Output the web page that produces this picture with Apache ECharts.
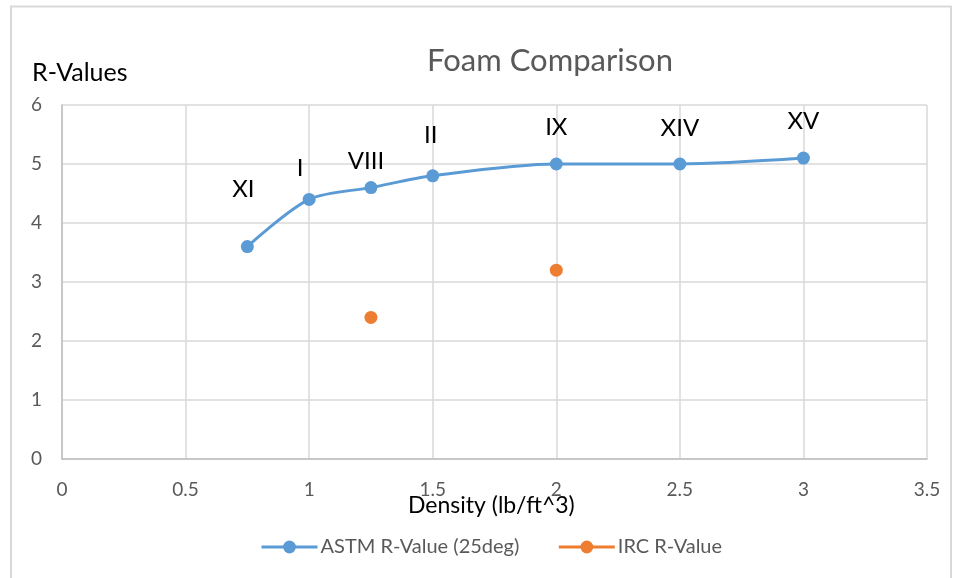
<!DOCTYPE html>
<html><head><meta charset="utf-8">
<script src="https://cdn.jsdelivr.net/npm/echarts@6/dist/echarts.min.js"></script>
<style>html,body{margin:0;padding:0;background:#fff}#c{width:958px;height:578px}</style>
</head><body><div id="c"></div>
<script>
const astmDensity = [0.75, 1, 1.25, 1.5, 2, 2.5, 3];
const astmR = [3.6, 4.4, 4.6, 4.8, 5.0, 5.0, 5.1];
const astmNames = ['XI', 'I', 'VIII', 'II', 'IX', 'XIV', 'XV'];
const ircDensity = [1.25, 2];
const ircR = [2.4, 3.2];
// label placement relative to each marker centre (layout only)
const labelOffsets = [[-4, -57], [-9, -31], [-5, -26], [-2, -41], [0, -37], [0, -36], [0, -37]];

const FONT = 'Lato, "Open Sans", sans-serif';
const BLUE = '#5b9bd5', ORANGE = '#ed7d31';
const chart = echarts.init(document.getElementById('c'), null, {renderer: 'canvas'});
chart.setOption({
  animation: false,
  backgroundColor: '#fff',
  textStyle: {fontFamily: FONT},
  title: {text: 'Foam Comparison', left: 545, top: 40, textAlign: 'center',
    textStyle: {fontFamily: FONT, fontSize: 31, fontWeight: 'normal', color: '#595959'}},
  graphic: [
    {type: 'rect', shape: {x: 11, y: 6.5, width: 940, height: 600}, style: {fill: 'none', stroke: '#d9d9d9', lineWidth: 2}, silent: true},
    {type: 'text', left: 32, top: 60, style: {text: 'R-Values', fontFamily: FONT, fontSize: 25, fill: '#000'}},
    {type: 'text', left: 408, top: 494, style: {text: 'Density (lb/ft^3)', fontFamily: FONT, fontSize: 23, fill: '#000'}}
  ],
  grid: {left: 62, right: 31, top: 105, bottom: 119, containLabel: false},
  legend: {bottom: 16, left: 255, itemGap: 38, itemWidth: 56, itemHeight: 16,
    lineStyle: {width: 3},
    textStyle: {fontFamily: FONT, fontSize: 20, color: '#595959', padding: [0, 0, 0, -2]},
    data: [
      {name: 'ASTM R-Value (25deg)', lineStyle: {color: BLUE, width: 3, opacity: 1}},
      {name: 'IRC R-Value', lineStyle: {color: ORANGE, width: 3, opacity: 1}}
    ]},
  xAxis: {type: 'value', min: 0, max: 3.5, interval: 0.5,
    axisLine: {show: true, onZero: false, lineStyle: {color: '#bfbfbf', width: 1.5}},
    axisTick: {show: false},
    splitLine: {show: true, lineStyle: {color: '#d9d9d9', width: 1.5}},
    axisLabel: {fontFamily: FONT, fontSize: 19, color: '#595959', margin: 21, formatter: v => String(v)}},
  yAxis: {type: 'value', min: 0, max: 6, interval: 1,
    axisLine: {show: true, lineStyle: {color: '#bfbfbf', width: 1.5}}, axisTick: {show: false},
    splitLine: {show: true, lineStyle: {color: '#d9d9d9', width: 1.5}},
    axisLabel: {fontFamily: FONT, fontSize: 19, color: '#595959', margin: 20}},
  series: [
    {name: 'ASTM R-Value (25deg)', type: 'line', smooth: 0.3,
      data: astmDensity.map((d, i) => ({value: [d, astmR[i]], label: {offset: labelOffsets[i]}})),
      symbol: 'circle', symbolSize: 13, z: 3,
      itemStyle: {color: BLUE}, lineStyle: {color: BLUE, width: 3},
      label: {show: true, position: 'inside', fontFamily: FONT, fontSize: 24, color: '#000',
        formatter: p => astmNames[p.dataIndex]}},
    {name: 'IRC R-Value', type: 'line', data: ircDensity.map((d, i) => [d, ircR[i]]),
      symbol: 'circle', symbolSize: 13,
      itemStyle: {color: ORANGE}, lineStyle: {color: ORANGE, width: 3, opacity: 0}}
  ]
});
</script></body></html>
